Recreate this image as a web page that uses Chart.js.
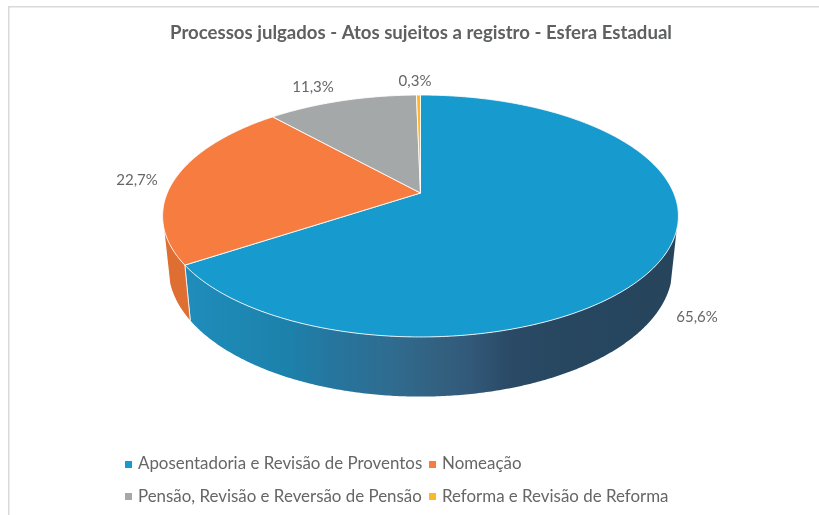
<!DOCTYPE html>
<html>
<head>
<meta charset="utf-8">
<script src="https://cdn.jsdelivr.net/npm/chart.js@4/dist/chart.umd.js"></script>
<style>
html,body{margin:0;padding:0;background:#fff}
#wrap{position:relative;width:819px;height:515px}
</style>
</head>
<body>
<div id="wrap"><canvas id="c" width="819" height="515"></canvas></div>
<script>
const chartTitle = 'Processos julgados - Atos sujeitos a registro - Esfera Estadual';
const categories = ['Aposentadoria e Revisão de Proventos', 'Nomeação', 'Pensão, Revisão e Reversão de Pensão', 'Reforma e Revisão de Reforma'];
const shares = [65.6, 22.7, 11.3, 0.3];
const sliceColors = ['#179ACE', '#F77C40', '#A5A8A8', '#FDB827'];
const sideColors = [null, '#DF6E33', '#8A8D8D', '#D49B20'];

// Appearance of the tilted pie (projection of a circle, seen in perspective)
const VIEW = { cx: 420.5, cy: 193, a: 253.2, b: 116.6, k: 0.19,
               sideX: 0.977, sideY: 1.06, sideDrop: 51,
               sideFrom: 107.5 * Math.PI / 180, sideTo: 252.5 * Math.PI / 180 };
const labelAnchors = [[697, 317], [137, 180], [313, 87], [415, 81]];
const legendSlots = [[125, 461, 138, 464], [429, 461, 442, 464], [125, 493, 138, 497], [429, 493, 442, 497]];
const sideStops = [[190, '#1F8CBA'], [285, '#1C82AC'], [330, '#25769F'], [390, '#2F6C90'], [440, '#33607F'], [470, '#32597A'], [510, '#2A4A66'], [570, '#27465F'], [680, '#26455D']];
const TEXT = '#666666';
const FONT = 'Lato, Carlito, sans-serif';

function topPoint(t) {
  const X = Math.sin(t), Y = -Math.cos(t), w = 1 - VIEW.k * Y;
  return [VIEW.cx + VIEW.a * X / w, VIEW.cy + VIEW.b * Y / w];
}
function basePoint(t) {
  const X = Math.sin(t), Y = -Math.cos(t), w = 1 - VIEW.k * Y;
  return [VIEW.cx + VIEW.sideX * VIEW.a * X / w, VIEW.cy + VIEW.sideDrop + VIEW.sideY * VIEW.b * Y / w];
}
function steps(from, to) {
  const out = [], n = Math.max(2, Math.ceil((to - from) / (Math.PI / 360)));
  for (let i = 0; i <= n; i++) out.push(from + (to - from) * i / n);
  return out;
}

const pie3d = {
  id: 'pie3d',
  beforeDraw(chart) {
    const ctx = chart.ctx;
    ctx.save();
    ctx.fillStyle = '#D9D9D9';
    ctx.fillRect(8, 6, 811, 1.5);
    ctx.fillRect(8, 6, 1.5, 509);
    ctx.restore();
  },
  beforeDatasetsDraw(chart) {
    const ctx = chart.ctx, arcs = chart.getDatasetMeta(0).data;
    const grad = ctx.createLinearGradient(190, 0, 680, 0);
    sideStops.forEach(s => grad.addColorStop((s[0] - 190) / 490, s[1]));
    ctx.save();
    ctx.lineJoin = 'round';
    // rim
    arcs.forEach((el, i) => {
      const s = el.startAngle + Math.PI / 2, e = el.endAngle + Math.PI / 2;
      const from = Math.max(s, VIEW.sideFrom), to = Math.min(e, VIEW.sideTo);
      if (to <= from) return;
      ctx.beginPath();
      steps(from, to).forEach((t, j) => { const p = topPoint(t); j ? ctx.lineTo(p[0], p[1]) : ctx.moveTo(p[0], p[1]); });
      steps(from, to).reverse().forEach(t => { const p = basePoint(t); ctx.lineTo(p[0], p[1]); });
      ctx.closePath();
      ctx.fillStyle = i === 0 ? grad : sideColors[i];
      ctx.fill();
      if (s > VIEW.sideFrom || e < VIEW.sideTo) {
        const edge = s > VIEW.sideFrom ? s : e, a = topPoint(edge), b = basePoint(edge);
        ctx.beginPath(); ctx.moveTo(a[0], a[1]); ctx.lineTo(b[0], b[1]);
        ctx.strokeStyle = 'rgba(255,255,255,0.75)'; ctx.lineWidth = 1; ctx.stroke();
      }
    });
    // top faces
    arcs.forEach((el, i) => {
      const s = el.startAngle + Math.PI / 2, e = el.endAngle + Math.PI / 2;
      ctx.beginPath();
      ctx.moveTo(VIEW.cx, VIEW.cy);
      steps(s, e).forEach(t => { const p = topPoint(t); ctx.lineTo(p[0], p[1]); });
      ctx.closePath();
      ctx.fillStyle = el.options.backgroundColor;
      ctx.fill();
      ctx.strokeStyle = 'rgba(255,255,255,0.85)';
      ctx.lineWidth = 1;
      ctx.stroke();
    });
    ctx.restore();
    return false;
  },
  afterDraw(chart) {
    const ctx = chart.ctx;
    ctx.save();
    ctx.fillStyle = TEXT;
    ctx.font = '15px ' + FONT;
    ctx.textAlign = 'center';
    ctx.textBaseline = 'middle';
    shares.forEach((v, i) => {
      ctx.fillText(v.toFixed(1).replace('.', ',') + '%', labelAnchors[i][0], labelAnchors[i][1]);
    });
    ctx.textAlign = 'left';
    ctx.font = '16.9px ' + FONT;
    categories.forEach((name, i) => {
      const s = legendSlots[i];
      ctx.fillStyle = sliceColors[i];
      ctx.fillRect(s[0], s[1], 7, 7);
      ctx.fillStyle = TEXT;
      ctx.fillText(name, s[2], s[3]);
    });
    ctx.restore();
  }
};

new Chart(document.getElementById('c'), {
  type: 'pie',
  data: { labels: categories, datasets: [{ data: shares, backgroundColor: sliceColors }] },
  options: {
    responsive: false,
    animation: false,
    layout: { padding: { left: 23, top: 10 } },
    plugins: {
      legend: { display: false },
      tooltip: { enabled: false },
      title: { display: true, text: chartTitle, color: '#5F6061',
               font: { family: FONT, size: 18.6, weight: 'bold' }, padding: { top: 12, bottom: 10 } }
    }
  },
  plugins: [pie3d]
});
</script>
</body>
</html>
